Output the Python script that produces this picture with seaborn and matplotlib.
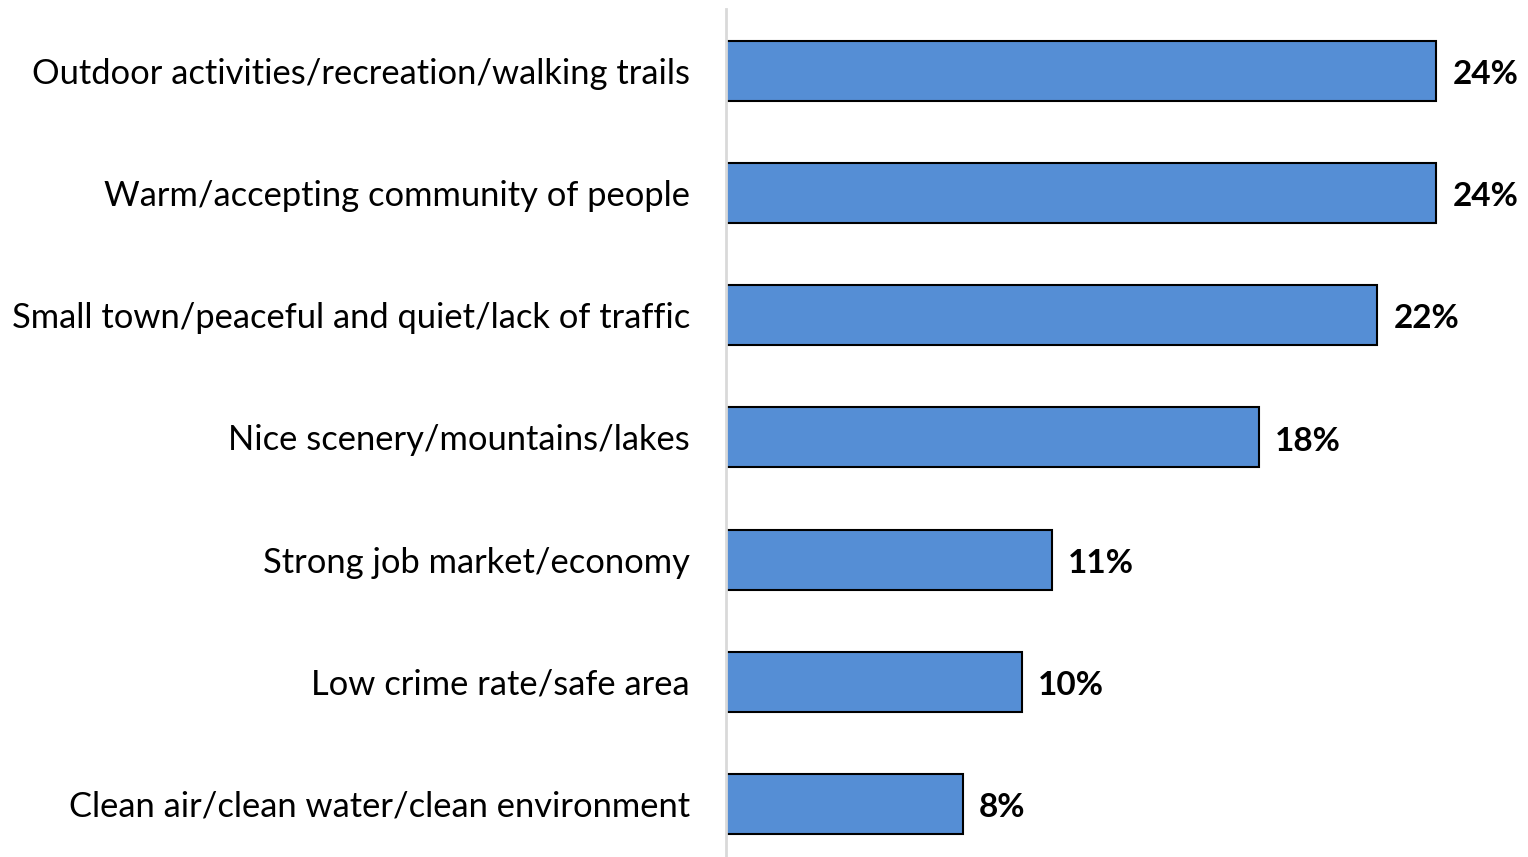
import matplotlib
matplotlib.use("Agg")
import matplotlib.pyplot as plt
import seaborn as sns
import pandas as pd

categories = [
    "Outdoor activities/recreation/walking trails",
    "Warm/accepting community of people",
    "Small town/peaceful and quiet/lack of traffic",
    "Nice scenery/mountains/lakes",
    "Strong job market/economy",
    "Low crime rate/safe area",
    "Clean air/clean water/clean environment",
]
values = [24, 24, 22, 18, 11, 10, 8]

df = pd.DataFrame({"category": categories, "value": values})

sns.set_theme(style="white")
plt.rcParams["font.family"] = ["Lato", "DejaVu Sans"]

fig = plt.figure(figsize=(15.28, 8.57), dpi=100)
ax = fig.add_axes([726 / 1528, 0.0, 1 - 726 / 1528, 1 - 9 / 857])

sns.barplot(data=df, x="value", y="category", orient="h", color="#558ED5",
            saturation=1, width=0.49, edgecolor="black", linewidth=1.5, ax=ax)

for i, v in enumerate(values):
    ax.text(v + 0.55, i + 0.03, f"{v}%", va="center", ha="left",
            fontsize=24, fontweight="bold", color="black")

ax.set_xlim(0, 27.1)
ax.set_ylim(6.434, -0.506)
ax.set_xlabel("")
ax.set_ylabel("")
ax.set_xticks([])
ax.tick_params(axis="y", length=0, pad=26, labelsize=24.8)
for lbl in ax.get_yticklabels():
    lbl.set_color("black")

for side in ["top", "right", "bottom"]:
    ax.spines[side].set_visible(False)
ax.spines["left"].set_color("#D9D9D9")
ax.spines["left"].set_linewidth(2)

fig.savefig("out.png", dpi=100, facecolor="white")
